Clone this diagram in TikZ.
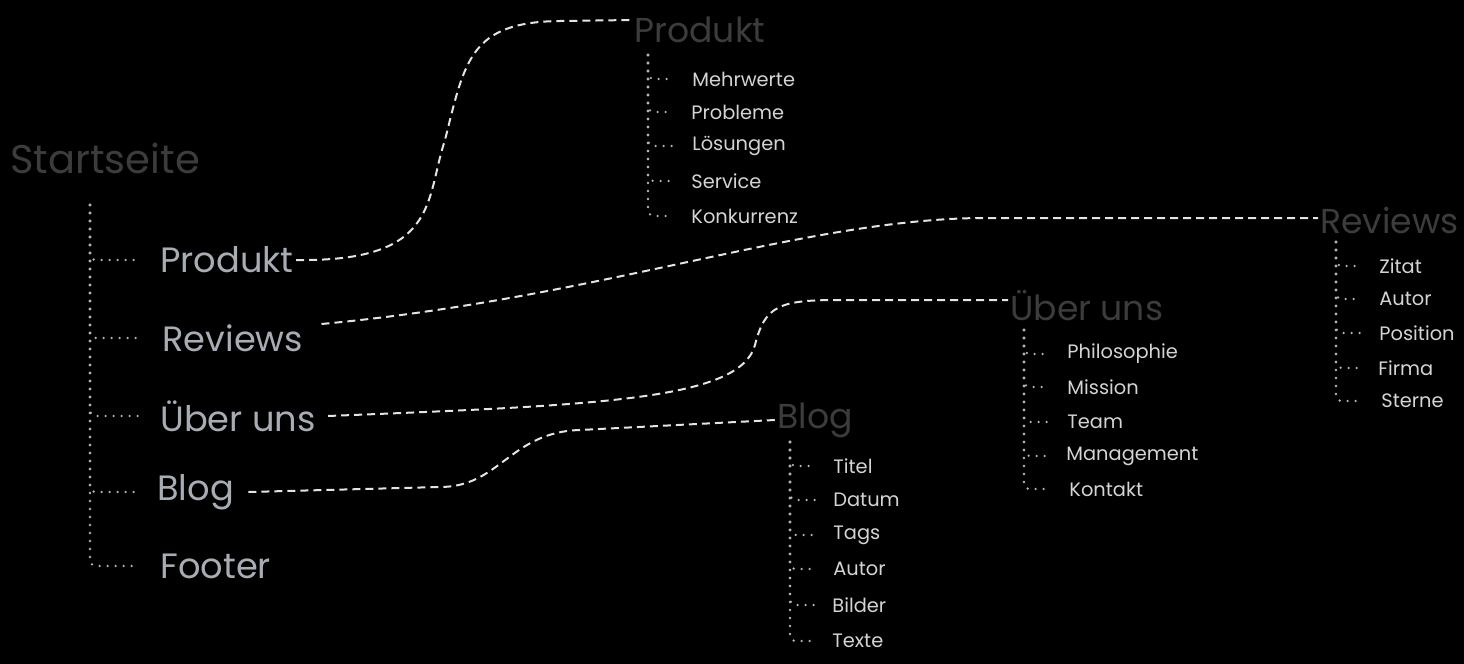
\documentclass[tikz,border=0pt]{standalone}
\usepackage{fontspec}
\setmainfont{Poppins}
\usepackage{tikz}
\usetikzlibrary{calc}
\definecolor{headgray}{RGB}{60,60,62}
\definecolor{itemgray}{RGB}{168,172,180}
\definecolor{leafgray}{RGB}{212,212,214}
\definecolor{linkwhite}{RGB}{228,228,228}
\definecolor{treegray}{RGB}{180,180,180}
\tikzset{
  title/.style={anchor=west, inner sep=1pt, text=headgray, font=\fontsize{20}{22}\selectfont},
  head/.style={anchor=west, inner sep=1pt, text=headgray, font=\fontsize{17.3}{19}\selectfont},
  item/.style={anchor=west, inner sep=1pt, text=itemgray, font=\fontsize{17.6}{19}\selectfont},
  leaf/.style={anchor=west, inner sep=1pt, text=leafgray, font=\fontsize{9.7}{11}\selectfont},
  link/.style={linkwhite, line width=1pt, dash pattern=on 4pt off 2.5pt},
  tree/.style={treegray, line width=1.3pt, line cap=round,
               dash pattern=on 0pt off 4pt, rounded corners=3pt},
}

\begin{document}
\begin{tikzpicture}[x=0.5pt,y=-0.5pt]
  \path[use as bounding box, fill=black] (0,0) rectangle (1464,664);

  % left column
  \node[title] (start) at (8,158) {Startseite};
  \node[item] (prodL) at (158,260) {Produkt};
  \node[item] (revL) at (160,338) {Reviews};
  \node[item] (uebL) at (158,416) {Über uns};
  \node[item] (blogL) at (155,492) {Blog};
  \node[item] (footL) at (158,566) {Footer};
  \coordinate (startT) at (90,205);
  \foreach \c in {prodL,revL,uebL,blogL,footL}
    \draw[tree] (startT) |- ([xshift=-10pt]\c.west);

  % Produkt
  \node[head] (prodH) at (632,30) {Produkt};
  \node[leaf] (mehr) at (690,79) {Mehrwerte};
  \node[leaf] (probl) at (689,112) {Probleme};
  \node[leaf] (loes) at (690,146) {Lösungen};
  \node[leaf] (serv) at (689,181) {Service};
  \node[leaf] (konk) at (689,216) {Konkurrenz};
  \coordinate (prodT) at (648,55);
  \foreach \c in {mehr,probl,loes,serv,konk}
    \draw[tree] (prodT) |- ([xshift=-8pt]\c.west);

  % Reviews
  \node[head] (revH) at (1318,220) {Reviews};
  \node[leaf] (zitat) at (1377,266) {Zitat};
  \node[leaf] (rautor) at (1377,299) {Autor};
  \node[leaf] (posi) at (1377,333) {Position};
  \node[leaf] (firma) at (1376,368) {Firma};
  \node[leaf] (sterne) at (1379,401) {Sterne};
  \coordinate (revT) at (1336,242);
  \foreach \c in {zitat,rautor,posi,firma,sterne}
    \draw[tree] (revT) |- ([xshift=-8pt]\c.west);

  % Über uns
  \node[head] (uebH) at (1008,306) {Über uns};
  \node[leaf] (philo) at (1065,354) {Philosophie};
  \node[leaf] (miss) at (1065,387) {Mission};
  \node[leaf] (team) at (1065,422) {Team};
  \node[leaf] (mgmt) at (1064,456) {Management};
  \node[leaf] (kont) at (1067,489) {Kontakt};
  \coordinate (uebT) at (1024,330);
  \foreach \c in {philo,miss,team,mgmt,kont}
    \draw[tree] (uebT) |- ([xshift=-8pt]\c.west);

  % Blog
  \node[head] (blogH) at (775,420) {Blog};
  \node[leaf] (titel) at (831,466) {Titel};
  \node[leaf] (datum) at (831,500) {Datum};
  \node[leaf] (tags) at (831,535) {Tags};
  \node[leaf] (bautor) at (831,569) {Autor};
  \node[leaf] (bilder) at (830,605) {Bilder};
  \node[leaf] (texte) at (830,641) {Texte};
  \coordinate (blogT) at (790,442);
  \foreach \c in {titel,datum,tags,bautor,bilder,texte}
    \draw[tree] (blogT) |- ([xshift=-8pt]\c.west);

  % dashed links
  \draw[link] (prodL.east) .. controls (440,262) and (425,200) .. (445,140)
    .. controls (465,60) and (470,22) .. (560,21) -- ([yshift=5pt]prodH.west);
  \draw[link] ([xshift=8pt,yshift=7pt]revL.east) .. controls (600,298) and (800,220) .. (980,218)
    -- ([yshift=1pt]revH.west);
  \draw[link] ([xshift=5pt]uebL.east) .. controls (600,405) and (740,400) .. (755,345)
    .. controls (765,305) and (780,300) .. (840,300) -- ([yshift=3pt]uebH.west);
  \draw[link] ([xshift=6pt]blogL.east) -- (440,487) .. controls (500,487) and (510,432) .. (580,430)
    -- (blogH.west);
\end{tikzpicture}
\end{document}
